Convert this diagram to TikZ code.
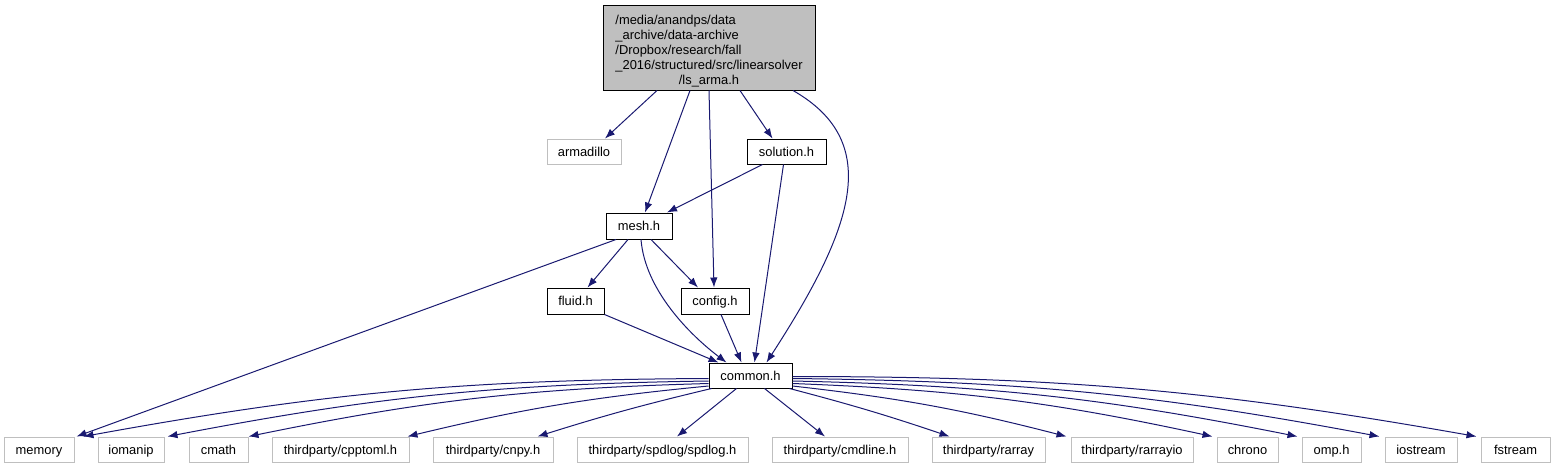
\documentclass[tikz,border=0pt]{standalone}
\usepackage{fontspec}
\setmainfont{Liberation Sans}
\usetikzlibrary{arrows.meta}
\definecolor{edgeblue}{HTML}{191970}
\definecolor{greyline}{HTML}{BFBFBF}
\begin{document}
\begin{tikzpicture}[x=1pt,y=1pt,
  base/.style={inner sep=0pt, line width=1pt, font=\fontsize{12.9}{15}\selectfont},
  boxed/.style={base, minimum height=25pt, text height=9.2pt, text depth=0pt},
  extbox/.style={boxed, draw=greyline, fill=white},
  incbox/.style={boxed, draw=black, fill=white},
  topbox/.style={base, draw=black, fill=greyline},
  dep/.style={draw=edgeblue, line width=1pt, -{Latex[length=10pt,width=7.5pt]}}]
\useasboundingbox (0,0) rectangle (1553,-469);

% nodes
\node[topbox, minimum width=212pt, minimum height=85pt] (top) at (709,-47.5) {};
\node[base] (toptext) at (709,-51) {\begin{tabular}{@{}l@{}}/media/anandps/data\\\_archive/data-archive\\/Dropbox/research/fall\\\_2016/structured/src/linearsolver\\\multicolumn{1}{@{}c@{}}{/ls\_arma.h}\end{tabular}};
\node[extbox, minimum width=74pt] (armadillo) at (584,-151.5) {armadillo};
\node[incbox, minimum width=79pt] (solution) at (786.5,-151.5) {solution.h};
\node[incbox, minimum width=66pt, minimum height=26pt] (mesh) at (639,-226) {mesh.h};
\node[incbox, minimum width=57pt, minimum height=26pt] (fluid) at (575.5,-301) {fluid.h};
\node[incbox, minimum width=68pt, minimum height=26pt] (config) at (715,-301) {config.h};
\node[incbox, minimum width=83pt] (common) at (750.5,-375.5) {common.h};

\node[extbox, minimum width=70pt] (memory) at (39,-449.5) {memory};
\node[extbox, minimum width=66pt] (iomanip) at (131,-449.5) {iomanip};
\node[extbox, minimum width=59pt] (cmath) at (218.5,-449.5) {cmath};
\node[extbox, minimum width=137pt] (cpptoml) at (340.5,-449.5) {thirdparty/cpptoml.h};
\node[extbox, minimum width=120pt] (cnpy) at (493,-449.5) {thirdparty/cnpy.h};
\node[extbox, minimum width=171pt] (spdlog) at (662.5,-449.5) {thirdparty/spdlog/spdlog.h};
\node[extbox, minimum width=136pt] (cmdline) at (840,-449.5) {thirdparty/cmdline.h};
\node[extbox, minimum width=113pt] (rarray) at (988.5,-449.5) {thirdparty/rarray};
\node[extbox, minimum width=122pt] (rarrayio) at (1132,-449.5) {thirdparty/rarrayio};
\node[extbox, minimum width=61pt] (chrono) at (1247.5,-449.5) {chrono};
\node[extbox, minimum width=59pt] (omp) at (1331.5,-449.5) {omp.h};
\node[extbox, minimum width=72pt] (iostream) at (1421,-449.5) {iostream};
\node[extbox, minimum width=69pt] (fstream) at (1515.5,-449.5) {fstream};

% edges from top
\draw[dep] ([xshift=-52pt]top.south) -- ([xshift=21pt]armadillo.north);
\draw[dep] ([xshift=-19pt]top.south) -- ([xshift=6pt]mesh.north);
\draw[dep] (top.south) -- ([xshift=-1pt]config.north);
\draw[dep] ([xshift=31pt]top.south) -- ([xshift=-14pt]solution.north);
\draw[dep] ([xshift=84pt]top.south) .. controls (884,-142.5) and (853,-229) .. ([xshift=16pt]common.north);

% solution
\draw[dep] ([xshift=-24pt]solution.south) -- ([xshift=28pt]mesh.north);
\draw[dep] ([xshift=-3pt]solution.south) -- ([xshift=4pt]common.north);

% mesh
\draw[dep] ([xshift=-23pt]mesh.south) -- ([xshift=2pt]memory.north east);
\draw[dep] ([xshift=-11pt]mesh.south) -- ([xshift=12pt]fluid.north);
\draw[dep] ([xshift=12pt]mesh.south) -- ([xshift=-17pt]config.north);
\draw[dep] ([xshift=2pt]mesh.south) .. controls (645,-290) and (690,-335) .. ([xshift=-24pt]common.north);

% fluid, config
\draw[dep] (fluid.south east) -- ([xshift=-32pt]common.north);
\draw[dep] ([xshift=6pt]config.south) -- ([xshift=-9pt]common.north);

% common to bottom row
\draw[dep] ([yshift=-3pt]common.west) to[bend right=5] ([xshift=9pt]memory.north east);
\draw[dep] ([yshift=-5.5pt]common.west) to[bend right=5] ([xshift=3pt]iomanip.north east);
\draw[dep] ([yshift=-8pt]common.west) to[bend right=5] (cmath.north east);
\draw[dep] ([yshift=-10.5pt]common.west) to[bend right=4] ([xshift=-2pt]cpptoml.north east);
\draw[dep] ([xshift=3pt]common.south west) to[bend right=2] ([xshift=-16pt]cnpy.north east);
\draw[dep] ([xshift=-14pt]common.south) -- ([xshift=14.5pt]spdlog.north);
\draw[dep] ([xshift=14pt]common.south) -- ([xshift=-15pt]cmdline.north);
\draw[dep] ([xshift=-3pt]common.south east) to[bend left=2] ([xshift=18pt]rarray.north west);
\draw[dep] ([yshift=-10.5pt]common.east) to[bend left=4] ([xshift=-4pt]rarrayio.north west);
\draw[dep] ([yshift=-8pt]common.east) to[bend left=5] ([xshift=-4pt]chrono.north west);
\draw[dep] ([yshift=-5.5pt]common.east) to[bend left=5] ([xshift=-4pt]omp.north west);
\draw[dep] ([yshift=-3pt]common.east) to[bend left=5] ([xshift=-5pt]iostream.north west);
\draw[dep] ([yshift=-1pt]common.east) to[bend left=5] ([xshift=-4pt]fstream.north west);
\end{tikzpicture}
\end{document}
